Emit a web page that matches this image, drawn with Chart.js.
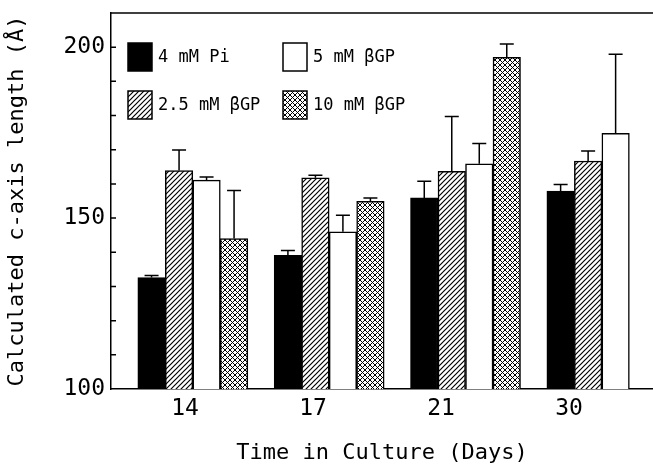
<!DOCTYPE html>
<html><head><meta charset="utf-8">
<script src="https://cdn.jsdelivr.net/npm/chart.js@4"></script>
<style>html,body{margin:0;padding:0;background:#fff}#c{display:block}</style>
</head><body>
<canvas id="c" width="653" height="471"></canvas>
<script>
// ---- data ----
const days = ['14', '17', '21', '30'];
const seriesNames = ['4 mM Pi', '2.5 mM βGP', '5 mM βGP', '10 mM βGP'];
const pi4     = [132.6, 139.1, 155.9, 157.9];
const pi4Err  = [0.6, 1.4, 4.9, 1.9];
const gp25    = [163.9, 161.8, 163.7, 166.7];
const gp25Err = [6.0, 0.7, 16.0, 2.9];
const gp5     = [161.1, 146.0, 165.9, 174.8];
const gp5Err  = [0.9, 4.8, 5.9, 23.1];
const gp10    = [144.0, 154.9, 197.0, null];
const gp10Err = [14.1, 1.0, 3.9, null];
const yTickLabels = [100, 150, 200];

const FONT = "'DejaVu Sans Mono', monospace";
Chart.defaults.font.family = FONT;
Chart.defaults.color = '#000';

const canvas = document.getElementById('c');
const ctx = canvas.getContext('2d');

function makePattern(kind) {
  const s = 5, c = document.createElement('canvas');
  c.width = s; c.height = s;
  const g = c.getContext('2d');
  g.fillStyle = '#fff'; g.fillRect(0, 0, s, s);
  g.strokeStyle = '#000'; g.lineWidth = kind === 'cross' ? 1.0 : 1.2;
  g.beginPath();
  g.moveTo(-1, s + 1); g.lineTo(s + 1, -1);
  g.moveTo(-1, 1); g.lineTo(1, -1);
  g.moveTo(s - 1, s + 1); g.lineTo(s + 1, s - 1);
  if (kind === 'cross') {
    g.moveTo(-1, -1); g.lineTo(s + 1, s + 1);
    g.moveTo(s - 1, -1); g.lineTo(s + 1, 1);
    g.moveTo(-1, s - 1); g.lineTo(1, s + 1);
  }
  g.stroke();
  return ctx.createPattern(c, 'repeat');
}
const fills = ['#000', makePattern('hatch'), '#fff', makePattern('cross')];
const values = [pi4, gp25, gp5, gp10];
const errors = [pi4Err, gp25Err, gp5Err, gp10Err];

const toPoints = arr => arr.map((v, i) => (v === null ? null : { x: i + 1, y: v })).filter(p => p);

const datasets = values.map((arr, k) => ({
  label: seriesNames[k],
  data: toPoints(arr),
  errs: errors[k].filter(e => e !== null),
  backgroundColor: fills[k],
  borderColor: '#000',
  borderWidth: 1.5,
  borderSkipped: 'bottom',
  barThickness: 27.5
}));

const errorBars = {
  id: 'errorBars',
  afterDatasetsDraw(chart) {
    const { ctx, scales: { y } } = chart;
    ctx.save();
    ctx.strokeStyle = '#000';
    ctx.lineWidth = 1.5;
    chart.data.datasets.forEach((ds, di) => {
      const meta = chart.getDatasetMeta(di);
      meta.data.forEach((bar, i) => {
        const p = ds.data[i];
        const e = ds.errs[i];
        if (!p || e == null) return;
        const yTop = y.getPixelForValue(p.y + e);
        ctx.beginPath();
        ctx.moveTo(bar.x, bar.y);
        ctx.lineTo(bar.x, yTop);
        ctx.moveTo(bar.x - 7, yTop);
        ctx.lineTo(bar.x + 7, yTop);
        ctx.stroke();
      });
    });
    ctx.restore();
  }
};

const frame = {
  id: 'frame',
  afterDraw(chart) {
    const { ctx, chartArea: a, scales: { y } } = chart;
    ctx.save();
    ctx.strokeStyle = '#000';
    ctx.lineWidth = 1.5;
    ctx.beginPath();
    ctx.moveTo(a.left, a.top);
    ctx.lineTo(a.right, a.top);
    y.ticks.forEach(t => {
      if (t.value > y.min && t.value < y.max) {
        const py = y.getPixelForValue(t.value);
        ctx.moveTo(a.left, py);
        ctx.lineTo(a.left + 5, py);
      }
    });
    ctx.stroke();
    ctx.restore();
  }
};

const legendBox = {
  id: 'legendBox',
  afterDraw(chart, args, o) {
    const { ctx } = chart;
    ctx.save();
    ctx.font = '17px ' + FONT;
    ctx.textBaseline = 'middle';
    ctx.textAlign = 'left';
    ctx.fillStyle = '#000';
    const pos = [[o.x1, o.y1], [o.x1, o.y2], [o.x2, o.y1], [o.x2, o.y2]];
    chart.data.datasets.forEach((ds, k) => {
      const [x, y0] = pos[k];
      ctx.fillStyle = ds.backgroundColor;
      ctx.fillRect(x, y0, o.w, o.h);
      ctx.strokeStyle = '#000';
      ctx.lineWidth = 1.5;
      ctx.strokeRect(x, y0, o.w, o.h);
      ctx.fillStyle = '#000';
      ctx.fillText(ds.label, x + o.w + 6, y0 + o.h / 2 + 1);
    });
    ctx.restore();
  }
};

new Chart(canvas, {
  type: 'bar',
  data: { datasets },
  plugins: [errorBars, frame, legendBox],
  options: {
    responsive: false,
    animation: false,
    devicePixelRatio: 1,
    layout: { padding: { top: 13, left: 0, right: 0, bottom: 0 } },
    plugins: {
      legend: { display: false },
      tooltip: { enabled: false },
      legendBox: { x1: 128, x2: 283, y1: 43, y2: 91, w: 24, h: 28 }
    },
    scales: {
      x: {
        type: 'linear', display: false, offset: false,
        min: 0.4, max: 4.375,
        afterBuildTicks: s => { s.ticks = days.map((d, i) => ({ value: i + 1 })); }
      },
      xl: {
        type: 'linear', position: 'bottom', offset: false,
        min: 0.422, max: 4.656,
        afterBuildTicks: s => { s.ticks = days.map((d, i) => ({ value: i + 1 })); },
        afterFit: s => { s.height = 82; s.paddingLeft = 0; s.paddingRight = 0; },
        border: { color: '#000', width: 1.5 },
        grid: { display: false, drawTicks: false },
        ticks: {
          padding: 6, color: '#000', font: { size: 23 }, autoSkip: false, maxRotation: 0,
          callback: (v, i) => days[i]
        },
        title: { display: true, text: 'Time in Culture (Days)', color: '#000', font: { size: 22 }, padding: { top: 0, bottom: 5 } }
      },
      y: {
        min: 100, max: 210,
        afterFit: s => { s.width = 111; s.paddingTop = 0; s.paddingBottom = 0; },
        border: { color: '#000', width: 1.5 },
        grid: { display: false, drawTicks: false },
        ticks: {
          stepSize: 10, padding: 6, color: '#000', font: { size: 23 },
          callback: v => (yTickLabels.includes(v) ? String(v) : '')
        },
        title: { display: true, text: 'Calculated c-axis length (Å)', color: '#000', font: { size: 22 }, padding: { top: 4, bottom: 0 } }
      }
    }
  }
});
</script>
</body></html>
